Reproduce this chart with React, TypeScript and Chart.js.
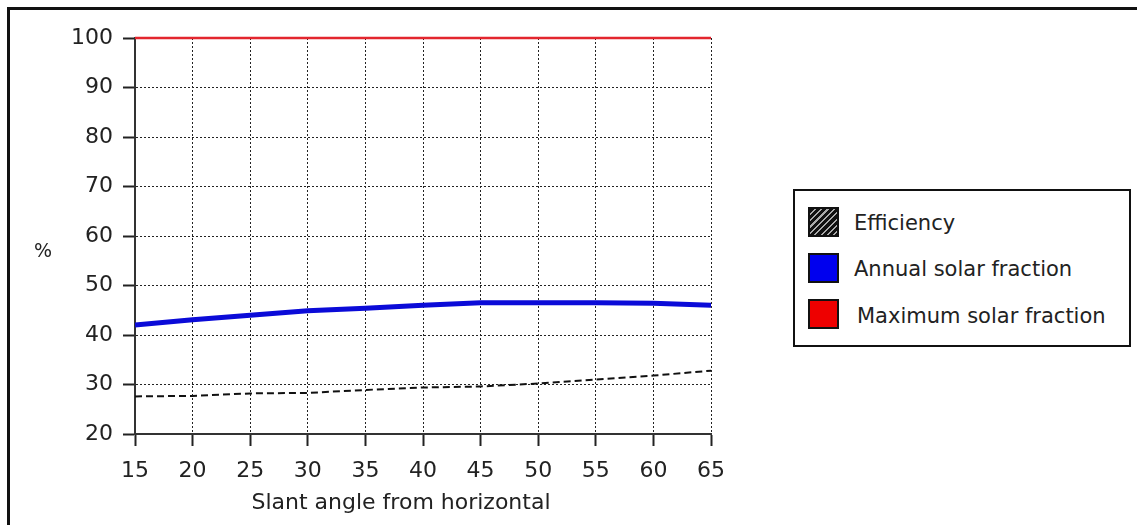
import React, { useEffect, useRef } from "react";
import { Chart, registerables } from "chart.js";

Chart.register(...registerables);

const angles = [15, 20, 25, 30, 35, 40, 45, 50, 55, 60, 65];
const efficiency = [27.6, 27.7, 28.2, 28.3, 28.9, 29.4, 29.6, 30.2, 31.0, 31.8, 32.8];
const annualSolarFraction = [42.0, 43.1, 44.0, 44.9, 45.4, 46.0, 46.5, 46.5, 46.5, 46.4, 46.0];
const maximumSolarFraction = [100, 100, 100, 100, 100, 100, 100, 100, 100, 100, 100];
const seriesNames = ["Efficiency", "Annual solar fraction", "Maximum solar fraction"];
const xTitle = "Slant angle from horizontal";
const yTitle = "%";

const FONT = "'DejaVu Sans', sans-serif";
const TEXT = "#222";

const toPoints = (ys: number[]) => angles.map((x, i) => ({ x, y: ys[i] }));

const extraText = {
  id: "extraText",
  afterDraw(chart: any) {
    const { ctx } = chart;
    ctx.save();
    ctx.fillStyle = TEXT;
    ctx.textAlign = "center";
    ctx.textBaseline = "middle";
    ctx.font = `22px ${FONT}`;
    ctx.fillText(xTitle, 401, 503);
    ctx.font = `19px ${FONT}`;
    ctx.fillText(yTitle, 43, 252);
    ctx.restore();
  },
};

export default function App() {
  const ref = useRef<HTMLCanvasElement | null>(null);

  useEffect(() => {
    if (!ref.current) return;
    const chart = new Chart(ref.current, {
      type: "line",
      data: {
        datasets: [
          {
            label: seriesNames[0],
            data: toPoints(efficiency),
            borderColor: "#111",
            borderWidth: 2,
            borderDash: [7, 4],
            pointRadius: 0,
            tension: 0,
          },
          {
            label: seriesNames[1],
            data: toPoints(annualSolarFraction),
            borderColor: "#0b0bd8",
            borderWidth: 5,
            pointRadius: 0,
            tension: 0,
          },
          {
            label: seriesNames[2],
            data: toPoints(maximumSolarFraction),
            borderColor: "#e3262e",
            borderWidth: 2.5,
            pointRadius: 0,
            tension: 0,
            clip: 4,
          },
        ],
      },
      options: {
        animation: false,
        responsive: false,
        devicePixelRatio: 1,
        layout: { padding: { left: 0, top: 38, right: 426, bottom: 0 } },
        plugins: { legend: { display: false }, tooltip: { enabled: false } },
        scales: {
          x: {
            type: "linear",
            min: 15,
            max: 65,
            afterFit: (s: any) => {
              s.height = 91;
            },
            ticks: {
              stepSize: 5,
              color: TEXT,
              font: { family: FONT, size: 22 },
              padding: 12,
              maxRotation: 0,
            },
            grid: {
              color: "#222",
              lineWidth: 1,
              tickLength: 12,
              tickColor: "#222",
              tickWidth: 2,
              tickBorderDash: [],
            },
            border: { display: true, color: "#333", width: 2, dash: [2, 2] },
          },
          y: {
            min: 20,
            max: 100,
            afterFit: (s: any) => {
              s.width = 135;
            },
            ticks: {
              stepSize: 10,
              color: TEXT,
              font: { family: FONT, size: 22 },
              padding: 10,
            },
            grid: {
              color: "#222",
              lineWidth: 1,
              tickLength: 12,
              tickColor: "#222",
              tickWidth: 2,
              tickBorderDash: [],
            },
            border: { display: true, color: "#333", width: 2, dash: [2, 2] },
          },
        },
      },
      plugins: [extraText],
    });
    return () => chart.destroy();
  }, []);

  const swatch = (bg: string, top: number) => ({
    position: "absolute" as const,
    left: 808,
    top,
    width: 31,
    height: 30,
    border: "2px solid #111",
    background: bg,
    boxSizing: "border-box" as const,
  });
  const label = (top: number, left = 854) => ({
    position: "absolute" as const,
    left,
    top,
    font: `21px ${FONT}`,
    color: TEXT,
    lineHeight: "24px",
    whiteSpace: "nowrap" as const,
  });

  return (
    <div
      style={{
        position: "fixed",
        left: 0,
        top: 0,
        width: 1137,
        height: 525,
        overflow: "hidden",
        background: "#fff",
      }}
    >
      <canvas
        ref={ref}
        width={1137}
        height={525}
        style={{ position: "absolute", left: 0, top: 0, width: 1137, height: 525 }}
      />
      <div
        style={{
          position: "absolute",
          left: 7,
          top: 7,
          width: 1200,
          height: 600,
          borderTop: "3px solid #111",
          borderLeft: "3px solid #111",
          pointerEvents: "none",
        }}
      />
      <div
        style={{
          position: "absolute",
          left: 793,
          top: 189,
          width: 338,
          height: 158,
          border: "2px solid #111",
          boxSizing: "border-box",
          background: "#fff",
        }}
      />
      <div style={swatch("repeating-linear-gradient(135deg, #111 0px, #111 3px, #aaa 3px, #aaa 4.5px)", 207)} />
      <div style={label(211)}>{seriesNames[0]}</div>
      <div style={swatch("#0000ee", 253)} />
      <div style={label(257)}>{seriesNames[1]}</div>
      <div style={swatch("#ee0000", 299)} />
      <div style={label(304, 857)}>{seriesNames[2]}</div>
    </div>
  );
}
